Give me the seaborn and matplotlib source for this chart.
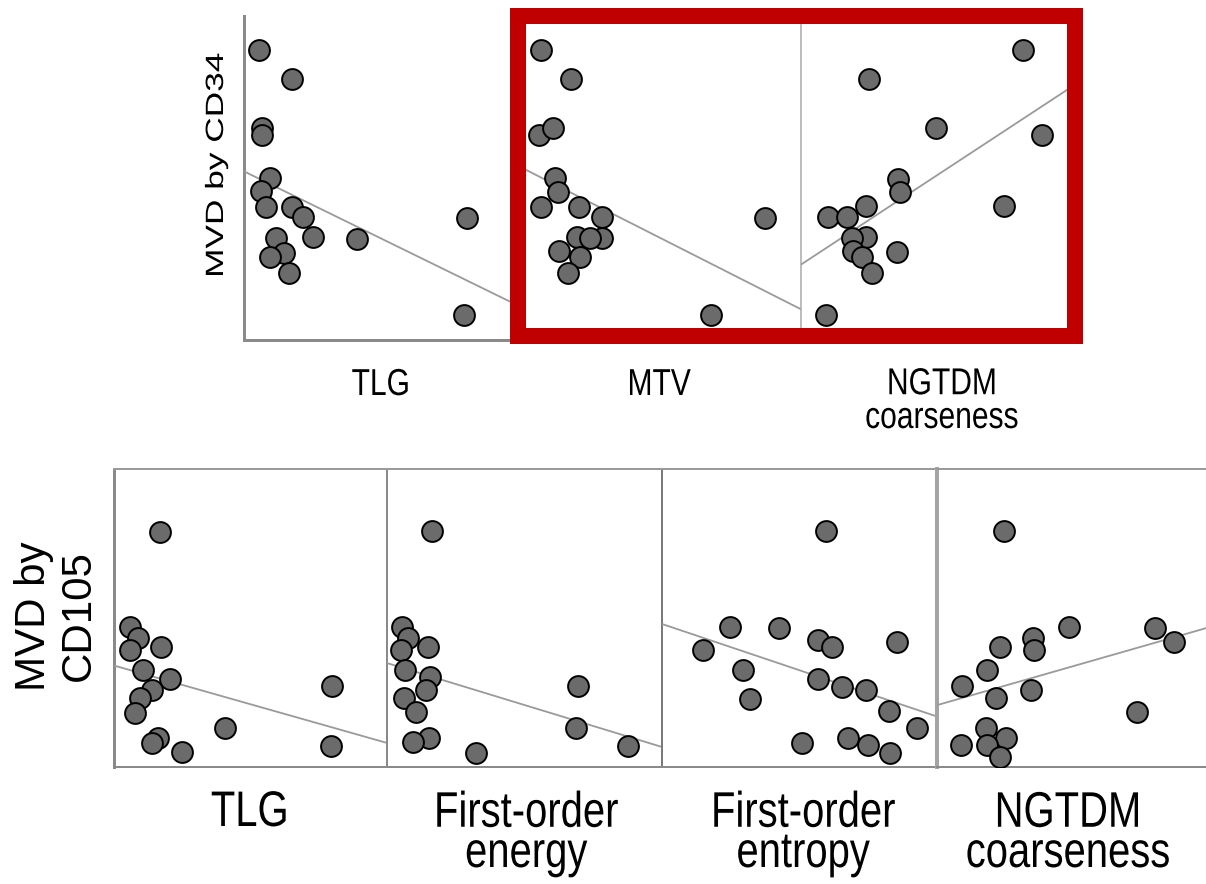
import matplotlib
matplotlib.use("Agg")
import matplotlib.pyplot as plt
import seaborn as sns
import pandas as pd
from matplotlib.patches import Rectangle
from matplotlib.patheffects import AbstractPathEffect
from matplotlib.transforms import Affine2D

# ---------------- data ----------------
# Top row: MVD by CD34
cd34_tlg_x = [54, 172.7, 64.7, 64.7, 93.5, 61.2, 79.1, 172.7, 212.2, 248.2, 406.5, 115.1, 143.9, 93.5, 161.9, 802.2, 791.4]
cd34_tlg_y = [89.5, 80.6, 65.4, 63.3, 50.0, 46.0, 41.0, 41.0, 38.0, 31.8, 31.2, 31.5, 26.9, 25.6, 20.7, 37.7, 7.7]

cd34_mtv_x = [13.6, 35.1, 12.2, 22.2, 23.7, 25.8, 13.6, 40.9, 57.3, 57.3, 39.4, 48.7, 26.5, 41.6, 33.0, 174.2, 135.5]
cd34_mtv_y = [89.5, 80.6, 63.3, 65.4, 50.0, 45.7, 41.0, 41.0, 38.0, 31.5, 31.8, 31.5, 27.5, 25.6, 20.7, 37.7, 7.7]

cd34_ngtdm_x = [0.0796, 0.0244, 0.0484, 0.0864, 0.0348, 0.0355, 0.0233, 0.0097, 0.0165, 0.0728, 0.0233, 0.0183, 0.0186, 0.0219, 0.0344, 0.0254, 0.0090]
cd34_ngtdm_y = [89.5, 80.6, 65.4, 63.3, 49.7, 45.7, 41.4, 38.0, 38.0, 41.4, 31.8, 31.5, 27.5, 25.6, 27.2, 20.7, 7.7]

# Bottom row: MVD by CD105
cd105_tlg_x = [168.5, 58.6, 87.9, 58.6, 172.2, 106.2, 205.1, 139.2, 95.2, 76.9, 406.6, 798.5, 161.2, 139.2, 249.1, 794.9]
cd105_tlg_y = [78.9, 47.0, 43.3, 39.3, 40.3, 32.6, 29.5, 25.8, 23.2, 18.1, 13.1, 27.2, 9.7, 8.1, 5.0, 7.0]

cd105_energy_x = [0.0164, 0.0055, 0.0076, 0.0051, 0.0149, 0.0065, 0.0156, 0.0142, 0.0062, 0.0105, 0.0695, 0.0687, 0.0153, 0.0095, 0.0324, 0.0876]
cd105_energy_y = [79.2, 47.0, 43.3, 39.3, 40.3, 32.6, 30.2, 25.8, 23.2, 18.5, 27.2, 13.1, 9.7, 8.4, 4.7, 7.0]

cd105_entropy_x = [5.385, 3.989, 4.702, 3.596, 5.269, 5.473, 6.418, 4.178, 5.269, 5.618, 5.967, 4.280, 6.302, 6.709, 5.036, 5.705, 5.996, 6.316]
cd105_entropy_y = [79.2, 47.0, 46.6, 39.3, 42.6, 40.3, 41.9, 32.6, 29.5, 26.8, 25.8, 22.8, 18.8, 13.1, 8.1, 9.7, 7.4, 4.7]

cd105_ngtdm_x = [0.0244, 0.0480, 0.0793, 0.0862, 0.0349, 0.0353, 0.0229, 0.0182, 0.0091, 0.0215, 0.0342, 0.0727, 0.0178, 0.0087, 0.0251, 0.0182, 0.0229]
cd105_ngtdm_y = [79.2, 47.0, 46.6, 41.9, 43.3, 39.3, 40.3, 32.6, 27.2, 23.2, 25.8, 18.5, 13.1, 7.4, 9.7, 7.4, 3.4]

top_labels = ["TLG", "MTV", "NGTDM\ncoarseness"]
bottom_labels = ["TLG", "First-order\nenergy", "First-order\nentropy", "NGTDM\ncoarseness"]
top_ylabel = "MVD by CD34"
bottom_ylabel = ["MVD by", "CD105"]

# ---------------- style ----------------
sns.set_theme(style="white")
plt.rcParams["font.family"] = ["Liberation Sans", "DejaVu Sans"]

W, H = 1206, 884
fig = plt.figure(figsize=(W / 100, H / 100), dpi=100)
fig.patch.set_facecolor("white")

PT = 0.72  # points per pixel at dpi 100
MARKER_FACE = "#6b6b6b"
LINE_COL = "#9a9a9a"
SPINE_COL = "#8a8a8a"


class Squeeze(AbstractPathEffect):
    """Scale a text glyph path along its own baseline direction."""

    def __init__(self, sx):
        super().__init__()
        self.sx = sx

    def draw_path(self, renderer, gc, tpath, affine, rgbFace=None):
        ext = tpath.get_extents()
        cx = (ext.x0 + ext.x1) / 2
        pre = Affine2D().translate(-cx, 0).scale(self.sx, 1).translate(cx, 0)
        renderer.draw_path(gc, tpath, pre + affine, rgbFace)


def px_axes(x0, y0, x1, y1):
    return fig.add_axes([x0 / W, 1 - y1 / H, (x1 - x0) / W, (y1 - y0) / H])


def panel(box, x, y, xlim, ylim=(0, 100)):
    ax = px_axes(*box)
    ax.set_facecolor("white")
    ax.set_xlim(*xlim)
    ax.set_ylim(*ylim)
    df = pd.DataFrame({"x": x, "y": y})
    sns.regplot(data=df, x="x", y="y", ax=ax, ci=None, truncate=False,
                scatter_kws=dict(s=225, color=MARKER_FACE, edgecolors="black",
                                 linewidths=1.4, alpha=1, zorder=3),
                line_kws=dict(color=LINE_COL, lw=1.3, zorder=2))
    ax.set_xlim(*xlim)
    ax.set_ylim(*ylim)
    ax.set_xticks([])
    ax.set_yticks([])
    ax.set_xlabel("")
    ax.set_ylabel("")
    for s in ax.spines.values():
        s.set_visible(False)
    return ax


def spine(ax, side, color, width_px):
    sp = ax.spines[side]
    sp.set_visible(True)
    sp.set_color(color)
    sp.set_linewidth(width_px * PT)
    sp.set_zorder(1)


# ---------------- top row ----------------
ax1 = panel((244, 16, 522, 340), cd34_tlg_x, cd34_tlg_y, (0, 1000))
spine(ax1, "left", SPINE_COL, 3)
spine(ax1, "bottom", SPINE_COL, 3)
ax2 = panel((522, 16, 801, 340), cd34_mtv_x, cd34_mtv_y, (0, 200))
ax3 = panel((801, 16, 1080, 340), cd34_ngtdm_x, cd34_ngtdm_y, (0, 0.1))
spine(ax3, "left", "#a8a8a8", 1.5)

# red highlight frame around MTV and NGTDM panels
fig.add_artist(Rectangle((518 / W, 1 - 335.5 / H), (1075 - 518) / W, (335.5 - 16) / H,
                         transform=fig.transFigure, fill=False, edgecolor="#c00000",
                         linewidth=16 * PT, joinstyle="miter", zorder=20))

# ---------------- bottom row ----------------
b1 = panel((114, 469, 387, 767), cd105_tlg_x, cd105_tlg_y, (0, 1000))
b2 = panel((387, 469, 662, 767), cd105_energy_x, cd105_energy_y, (0, 0.1))
b3 = panel((662, 469, 937, 767), cd105_entropy_x, cd105_entropy_y, (3, 7))
b4 = panel((937, 469, 1212, 767), cd105_ngtdm_x, cd105_ngtdm_y, (0, 0.1))
for ax in (b1, b2, b3, b4):
    spine(ax, "top", "#9a9a9a", 2)
    spine(ax, "bottom", SPINE_COL, 2)
spine(b1, "left", SPINE_COL, 3)
spine(b2, "left", SPINE_COL, 2)
spine(b3, "left", "#7a7a7a", 2)
spine(b4, "left", "#a4a4a4", 4)

# ---------------- text ----------------
def xlabel(cx, baselines, txt, size_px, sx, ls):
    # 'baseline' alignment anchors the last line of a multi-line label
    base = baselines[1] if "\n" in txt else baselines[0]
    fig.text(cx / W, 1 - base / H, txt, ha="center", va="baseline",
             multialignment="center", linespacing=ls,
             fontsize=size_px * PT, color="black",
             path_effects=[Squeeze(sx)])


for cx, txt in zip([381, 659, 942], top_labels):
    xlabel(cx, (395, 428), txt, 37.5, 0.8, 0.92)

for cx, txt in zip([250, 526, 803, 1068], bottom_labels):
    xlabel(cx, (826, 867), txt, 50, 0.8, 0.84)

fig.text(223 / W, 1 - 165 / H, top_ylabel, rotation=90, rotation_mode="anchor",
         ha="center", va="baseline", fontsize=25 * PT, color="black",
         path_effects=[Squeeze(1.41)])
for bx, txt in zip([45, 90], bottom_ylabel):
    fig.text(bx / W, 1 - 616 / H, txt, rotation=90, rotation_mode="anchor",
             ha="center", va="baseline", fontsize=42 * PT, color="black")

fig.savefig("out.png", dpi=100, facecolor="white")
